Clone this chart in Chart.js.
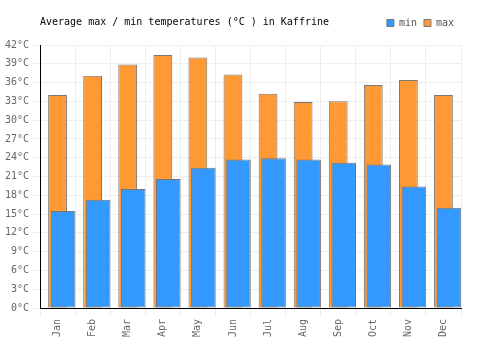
<!DOCTYPE html>
<html>
<head>
<meta charset="utf-8">
<script src="https://cdn.jsdelivr.net/npm/chart.js@4/dist/chart.umd.min.js"></script>
<style>
  html, body { margin: 0; padding: 0; background: #fff; }
  #wrap { width: 500px; height: 350px; }
</style>
</head>
<body>
<div id="wrap"><canvas id="chart"></canvas></div>
<script>
// datos
const months = ['Jan', 'Feb', 'Mar', 'Apr', 'May', 'Jun', 'Jul', 'Aug', 'Sep', 'Oct', 'Nov', 'Dec'];
const minTemps = [15.5, 17.3, 19.0, 20.6, 22.4, 23.7, 23.9, 23.7, 23.2, 22.9, 19.4, 16.0];
const maxTemps = [34.0, 37.1, 38.9, 40.4, 40.0, 37.3, 34.2, 32.9, 33.0, 35.6, 36.4, 34.0];
const yTicks = [0, 3, 6, 9, 12, 15, 18, 21, 24, 27, 30, 33, 36, 39, 42];
const titleText = 'Average max / min temperatures (°C ) in Kaffrine';

const mono = 'DejaVu Sans Mono';

// titulo a la izquierda, en la misma linea que la leyenda
const titlePlugin = {
    id: 'leftTitle',
    afterDraw(chart) {
        const ctx = chart.ctx;
        ctx.save();
        ctx.font = '10px "' + mono + '"';
        ctx.fillStyle = '#000';
        ctx.textBaseline = 'middle';
        ctx.textAlign = 'left';
        ctx.fillText(titleText, 40, 22);
        ctx.restore();
    }
};

const ctx = document.getElementById('chart').getContext('2d');
new Chart(ctx, {
    type: 'bar',
    data: {
        labels: months,
        datasets: [{
            label: 'min',
            data: minTemps,
            backgroundColor: '#3399FF',
            borderColor: '#777777',
            borderWidth: 1,
            borderSkipped: false,
            order: 1,
            categoryPercentage: 0.6286,
            barPercentage: 2.23
        }, {
            label: 'max',
            data: maxTemps,
            backgroundColor: '#FF9933',
            borderColor: '#777777',
            borderWidth: 1,
            borderSkipped: false,
            order: 2,
            grouped: false,
            barPercentage: 0.67
        }, {
            // hueco vacio para desplazar la barra min a la derecha
            label: '',
            data: [],
            order: 0
        }]
    },
    options: {
        responsive: true,
        maintainAspectRatio: false,
        animation: false,
        layout: { padding: { left: 0, right: 39, top: 11, bottom: 0 } },
        plugins: {
            legend: {
                position: 'top',
                align: 'end',
                labels: {
                    boxWidth: 7,
                    boxHeight: 7,
                    padding: 7,
                    color: '#555',
                    font: { family: mono, size: 10 },
                    filter: item => item.text !== ''
                }
            },
            // espacio entre la leyenda y el grafico
            subtitle: {
                display: true,
                text: '',
                weight: 500,
                padding: 0,
                font: { size: 7, lineHeight: 1 }
            },
            tooltip: { enabled: false }
        },
        scales: {
            x: {
                stacked: false,
                grid: { color: '#eeeeee', offset: true },
                border: { color: '#000', width: 1 },
                ticks: {
                    color: '#666',
                    font: { family: mono, size: 10 },
                    minRotation: 90,
                    maxRotation: 90
                },
                afterFit(scale) { scale.height = 42; }
            },
            y: {
                min: 0,
                max: 42,
                grid: { color: '#eeeeee' },
                border: { color: '#000', width: 1 },
                afterBuildTicks(scale) {
                    scale.ticks = yTicks.map(v => ({ value: v }));
                },
                ticks: {
                    color: '#666',
                    font: { family: mono, size: 10 },
                    callback: v => v + '°C'
                },
                afterFit(scale) { scale.width = 40; }
            }
        }
    },
    plugins: [titlePlugin]
});
</script>
</body>
</html>
